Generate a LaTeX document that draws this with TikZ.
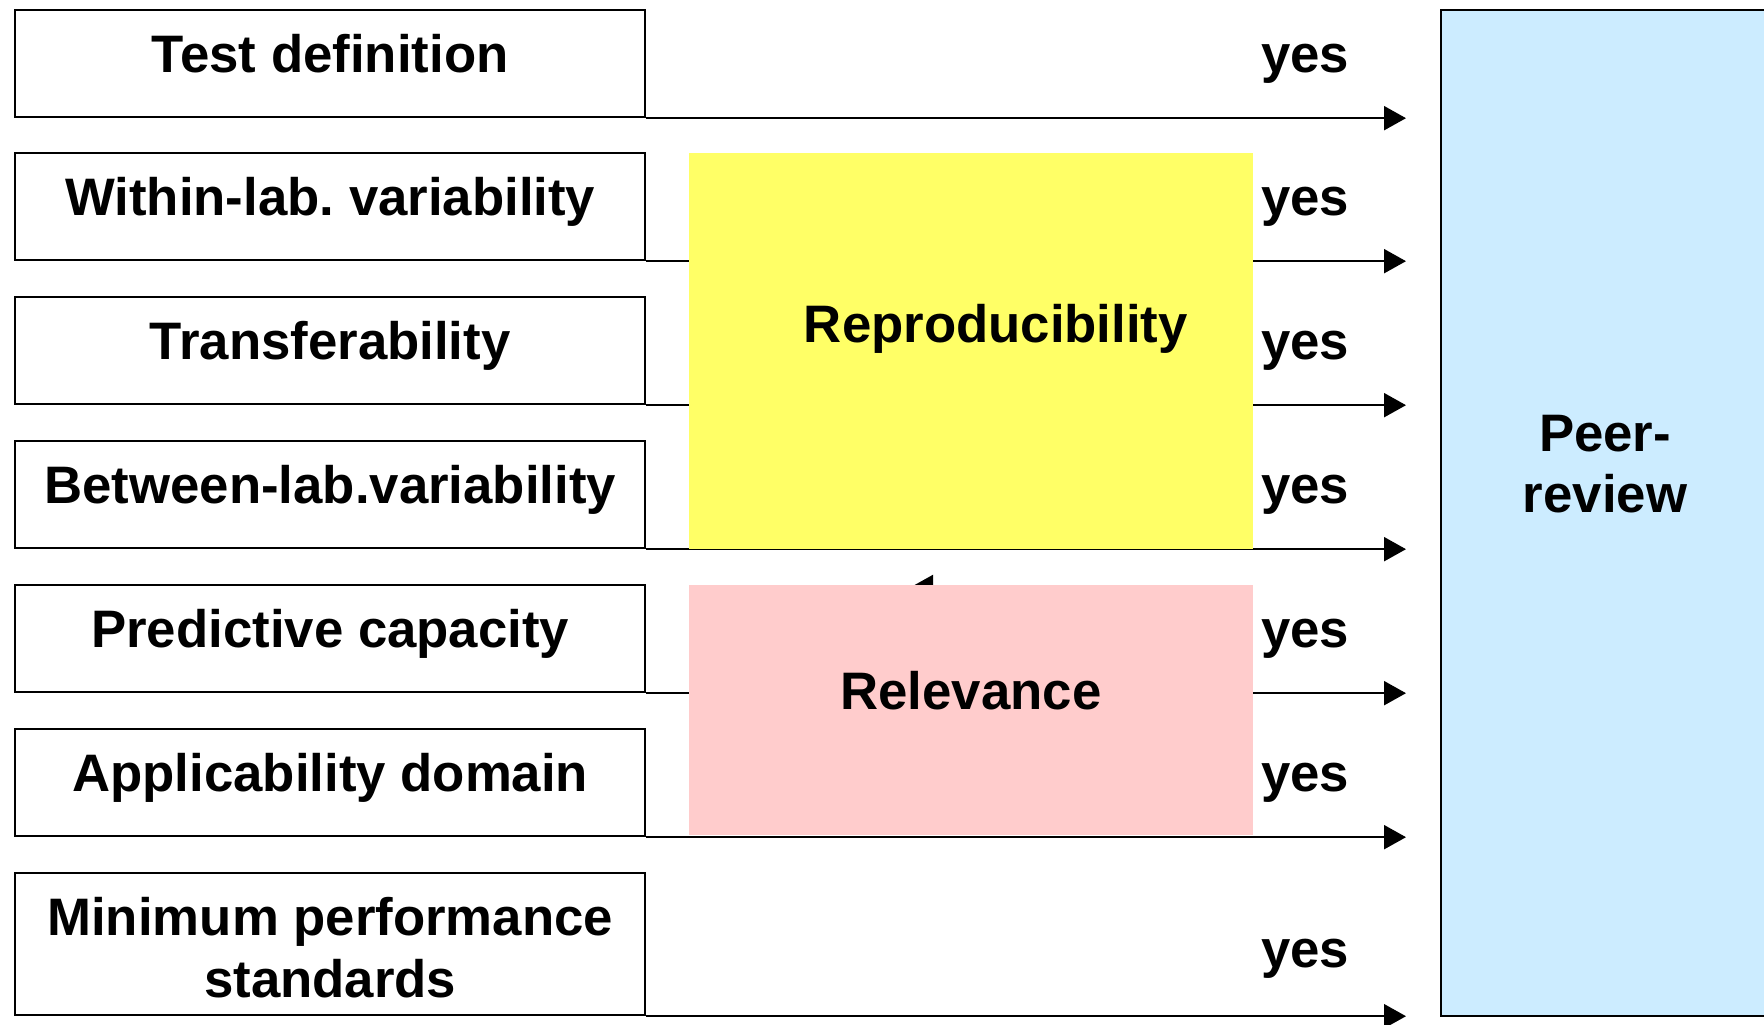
\documentclass[tikz,border=0pt]{standalone}
\usepackage{fontspec}
\setmainfont{Liberation Sans}
\frenchspacing
\usetikzlibrary{calc,arrows.meta}
\definecolor{reprofill}{HTML}{FFFF66}
\definecolor{relevfill}{HTML}{FFCCCC}
\definecolor{peerfill}{HTML}{CCECFF}
\def\critbox{\node[draw=black,line width=0.6pt,minimum width=6.3cm,minimum height=1.07cm,anchor=north west,inner sep=0pt]}
\def\critlabel{\node[font=\bfseries\fontsize{15}{17.6}\selectfont,anchor=base,align=center,inner sep=0pt]}
\def\drawyes{\draw[line width=0.6pt,-{Triangle[length=2.2mm,width=2.4mm]}]}

\begin{document}
\begin{tikzpicture}[x=0.01cm,y=-0.01cm]
\clip (0,0) rectangle (1764,1024);
\coordinate (o) at (14,9); % top left corner of the first box
\coordinate (tip) at (1406,0);
\coordinate (yes) at (1305,0);

% The criteria on the left
\critbox (testdef) at (o) {};
\critbox (within) at ($ (o) + (0,143) $) {};
\critbox (transfer) at ($ (o) + (0,287) $) {};
\critbox (between) at ($ (o) + (0,431) $) {};
\critbox (predict) at ($ (o) + (0,575) $) {};
\critbox (domain) at ($ (o) + (0,719) $) {};
\critbox[minimum height=1.42cm] (minperf) at ($ (o) + (0,863) $) {};

% Arrows to the peer review
\drawyes (testdef.south east) to (testdef.south east -| tip);
\drawyes (within.south east) to (within.south east -| tip);
\drawyes (transfer.south east) to (transfer.south east -| tip);
\drawyes (between.south east) to (between.south east -| tip);
\drawyes (predict.south east) to (predict.south east -| tip);
\drawyes (domain.south east) to (domain.south east -| tip);
\drawyes (minperf.south east) to (minperf.south east -| tip);

% Grouping boxes, drawn over the arrows
\coordinate (hidtip) at (911,587);
\coordinate (hidstart) at (970,587);
\drawyes (hidstart) to (hidtip); % mostly hidden by the relevance box
\node[fill=relevfill,minimum width=5.64cm,minimum height=2.5cm,anchor=north west,inner sep=0pt] (relev) at (688,584) {};
\node[fill=reprofill,minimum width=5.64cm,minimum height=3.96cm,anchor=north west,inner sep=0pt] (repro) at (688,152) {};
\node[draw=black,line width=0.6pt,fill=peerfill,minimum width=4cm,minimum height=10.05cm,anchor=north west,inner sep=0pt] (peer) at (1440,9) {};

% Texts
\critlabel at ($ (testdef.north) + (0,63) $) {Test definition};
\critlabel at ($ (within.north) + (0,63) $) {Within-lab. variability};
\critlabel at ($ (transfer.north) + (0,63) $) {Transferability};
\critlabel at ($ (between.north) + (0,63) $) {Between-lab.variability};
\critlabel at ($ (predict.north) + (0,63) $) {Predictive capacity};
\critlabel at ($ (domain.north) + (0,63) $) {Applicability domain};
\critlabel[anchor=north] at ($ (minperf.north) + (0,25) $) {Minimum performance\\standards};

\critlabel at ($ (testdef.north -| yes) + (0,63) $) {yes};
\critlabel at ($ (within.north -| yes) + (0,63) $) {yes};
\critlabel at ($ (transfer.north -| yes) + (0,63) $) {yes};
\critlabel at ($ (between.north -| yes) + (0,63) $) {yes};
\critlabel at ($ (predict.north -| yes) + (0,63) $) {yes};
\critlabel at ($ (domain.north -| yes) + (0,63) $) {yes};
\critlabel at ($ (minperf.north -| yes) + (0,95) $) {yes};

\critlabel at ($ (repro.center) + (25,-8) $) {Reproducibility};
\critlabel at (relev.center) {Relevance};
\critlabel[anchor=north] at (1605,414) {Peer-\\review};
\end{tikzpicture}
\end{document}
